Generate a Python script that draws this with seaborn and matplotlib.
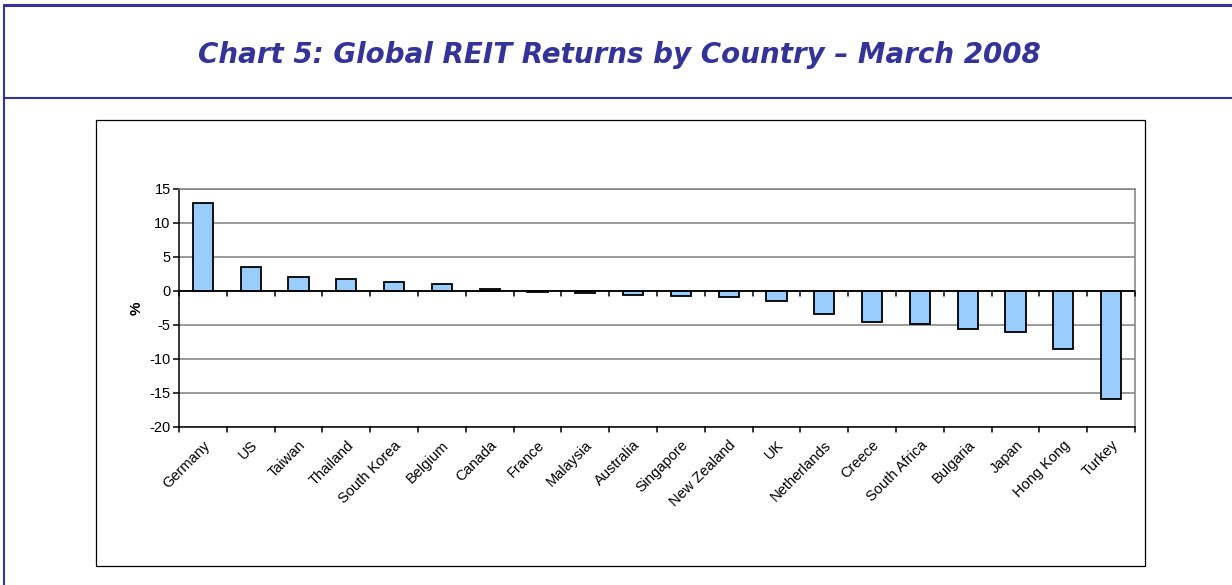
import matplotlib
matplotlib.use("Agg")
import matplotlib.pyplot as plt
from matplotlib.lines import Line2D
from matplotlib.patches import Rectangle
import seaborn as sns

# data
countries = ["Germany", "US", "Taiwan", "Thailand", "South Korea", "Belgium",
             "Canada", "France", "Malaysia", "Australia", "Singapore",
             "New Zealand", "UK", "Netherlands", "Creece", "South Africa",
             "Bulgaria", "Japan", "Hong Kong", "Turkey"]
returns = [13.0, 3.5, 2.0, 1.8, 1.3, 1.0, 0.3, -0.1, -0.3, -0.6, -0.8,
           -0.9, -1.5, -3.4, -4.5, -4.8, -5.6, -6.1, -8.5, -15.9]
yticks = [15, 10, 5, 0, -5, -10, -15, -20]

sns.set_style("white")
plt.rcParams["font.family"] = ["Liberation Sans", "DejaVu Sans"]
plt.rcParams["text.color"] = "black"
plt.rcParams["axes.labelcolor"] = "black"
plt.rcParams["xtick.color"] = "black"
plt.rcParams["ytick.color"] = "black"

W, H = 1232, 585
fig = plt.figure(figsize=(W / 100, H / 100), dpi=100)
navy = "#333399"

def fx(x):
    return x / W

def fy(y):
    return 1 - y / H

# outer frame and title band
fig.add_artist(Line2D([fx(4), 1], [fy(5), fy(5)], color=navy, lw=2.2))
fig.add_artist(Line2D([fx(4), fx(4)], [fy(5), 0], color=navy, lw=1.5))
fig.add_artist(Line2D([fx(4), 1], [fy(98), fy(98)], color=navy, lw=1.5))
fig.text(0.503, fy(55), "Chart 5: Global REIT Returns by Country \u2013 March 2008",
         ha="center", va="center", fontsize=20, style="italic",
         fontweight="bold", color=navy, family="DejaVu Sans")

# chart box
fig.add_artist(Rectangle((fx(96), fy(566)), fx(1145) - fx(96), fy(120) - fy(566),
                         fill=False, edgecolor="black", lw=0.9))

ax = fig.add_axes([fx(179), fy(427), fx(1135) - fx(179), fy(189) - fy(427)])
sns.barplot(x=countries, y=returns, color="#99CCFF", edgecolor="black",
            linewidth=1.3, width=0.42, saturation=1, ax=ax, zorder=3)

ax.set_ylim(-20, 15)
ax.set_xlim(-0.5, len(countries) - 0.5)
ax.set_yticks(yticks)
ax.set_yticklabels([str(v) for v in yticks], fontsize=10.5)
ax.yaxis.grid(True, color="#808080", lw=1.1)
ax.set_axisbelow(True)

for side in ["top", "right"]:
    ax.spines[side].set_color("#808080")
    ax.spines[side].set_linewidth(1.1)
ax.spines["left"].set_color("black")
ax.spines["bottom"].set_color("black")
ax.spines["left"].set_linewidth(1.1)
ax.spines["bottom"].set_linewidth(1.1)

# category boundary ticks on the zero line and at the bottom
ax.axhline(0, color="black", lw=1.3, zorder=4)
bounds = [i - 0.5 for i in range(len(countries) + 1)]
for b in bounds:
    ax.plot([b, b], [0, -0.8], color="black", lw=1.1, zorder=4, clip_on=False)
    ax.plot([b, b], [-20, -20.8], color="black", lw=1.1, zorder=4, clip_on=False)

ax.tick_params(axis="x", length=0, pad=8)
ax.tick_params(axis="y", length=4, width=1.1, direction="out", left=True, pad=2)
ax.set_xticks(range(len(countries)))
ax.set_xticklabels(countries, rotation=45, ha="right", rotation_mode="anchor",
                   fontsize=10.5)
ax.set_xlabel("")
ax.set_ylabel("%", fontsize=11, fontweight="bold", labelpad=4)

fig.savefig("out.png", dpi=100, facecolor="white")
